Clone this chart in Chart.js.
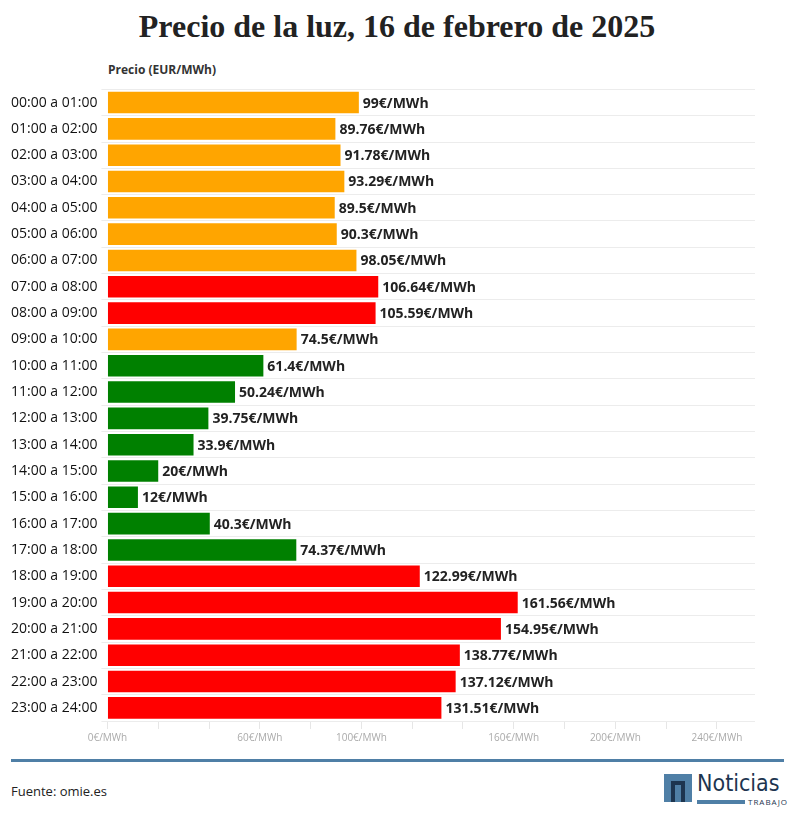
<!DOCTYPE html>
<html><head><meta charset="utf-8">
<script src="https://cdn.jsdelivr.net/npm/chart.js@4"></script>
<style>
body{margin:0;background:#fff;width:794px;height:821px;position:relative;font-family:"Open Sans",sans-serif;}
h1{position:absolute;top:8px;left:0;width:794px;text-align:center;margin:0;font-family:"Liberation Serif",serif;font-size:32px;font-weight:bold;color:#222;}
#sub{position:absolute;top:61px;left:108px;font-size:12px;font-weight:bold;color:#333;}
#wrap{position:absolute;top:77px;left:0;width:794px;height:670px;}
#line{position:absolute;top:759px;left:11px;width:773px;height:3px;background:#4f7fa6;}
#src{position:absolute;top:782px;left:11px;font-size:13px;color:#222;}
#logo{position:absolute;top:770px;left:664px;}
</style></head><body>
<h1>Precio de la luz, 16 de febrero de 2025</h1>
<div id="sub">Precio (EUR/MWh)</div>
<div id="wrap"><canvas id="c"></canvas></div>
<div id="line"></div>
<div id="src">Fuente: omie.es</div>
<div id="logo">
 <div style="position:absolute;left:0;top:4px;width:28px;height:28px;background:#4f7fa6"></div>
 <div style="position:absolute;left:7px;top:11px;width:14px;height:21px;border:4px solid #1d3550;border-bottom:none;box-sizing:border-box"></div>
 <div style="position:absolute;left:33px;top:0px;font-size:23px;color:#1d3550;font-family:'DejaVu Sans Condensed',sans-serif">Noticias</div>
 <div style="position:absolute;left:33px;top:30px;width:48px;height:4px;background:#4f7fa6"></div>
 <div style="position:absolute;left:84px;top:26px;font-size:8px;color:#1d3550;letter-spacing:1px">TRABAJO</div>
</div>
<script>
const hours = ["00:00 a 01:00","01:00 a 02:00","02:00 a 03:00","03:00 a 04:00","04:00 a 05:00","05:00 a 06:00","06:00 a 07:00","07:00 a 08:00","08:00 a 09:00","09:00 a 10:00","10:00 a 11:00","11:00 a 12:00","12:00 a 13:00","13:00 a 14:00","14:00 a 15:00","15:00 a 16:00","16:00 a 17:00","17:00 a 18:00","18:00 a 19:00","19:00 a 20:00","20:00 a 21:00","21:00 a 22:00","22:00 a 23:00","23:00 a 24:00"];
const prices = [99,89.76,91.78,93.29,89.5,90.3,98.05,106.64,105.59,74.5,61.4,50.24,39.75,33.9,20,12,40.3,74.37,122.99,161.56,154.95,138.77,137.12,131.51];
const levels = ["m","m","m","m","m","m","m","h","h","m","l","l","l","l","l","l","l","l","h","h","h","h","h","h"];
const levelColors = {l:"#008000", m:"#FFA500", h:"#FF0000"};
const shownTicks = [0,60,100,160,200,240];

const valueLabels = {
  id: "valueLabels",
  afterDatasetsDraw(chart) {
    const c = chart.ctx;
    c.save();
    c.font = "bold 14px 'Open Sans'";
    c.fillStyle = "#222";
    c.textBaseline = "middle";
    chart.getDatasetMeta(0).data.forEach((bar, i) => {
      c.fillText(prices[i] + "€/MWh", bar.x + 4, bar.y + 1);
    });
    c.restore();
  }
};

new Chart(document.getElementById("c"), {
  type: "bar",
  data: {
    labels: hours,
    datasets: [{
      data: prices,
      backgroundColor: levels.map(l => levelColors[l]),
      barPercentage: 0.82,
      categoryPercentage: 1
    }]
  },
  options: {
    indexAxis: "y",
    responsive: true,
    maintainAspectRatio: false,
    animation: false,
    layout: { padding: { left: 7, right: 39 } },
    plugins: { legend: { display: false }, tooltip: { enabled: false } },
    scales: {
      x: {
        min: 0, max: 255,
        ticks: {
          stepSize: 20, includeBounds: false, autoSkip: false, maxRotation: 0,
          color: "#aaa", font: { size: 10, family: "Open Sans" },
          callback: v => shownTicks.includes(v) ? v + "€/MWh" : ""
        },
        grid: { color: "#e6e6e6", drawOnChartArea: false, tickLength: 8 },
        border: { display: false }
      },
      y: {
        ticks: { color: "#111", font: { size: 14, family: "Open Sans" }, padding: 4 },
        grid: { color: "#ececec", tickLength: 6 },
        border: { display: false }
      }
    }
  },
  plugins: [valueLabels]
});
</script>
</body></html>
